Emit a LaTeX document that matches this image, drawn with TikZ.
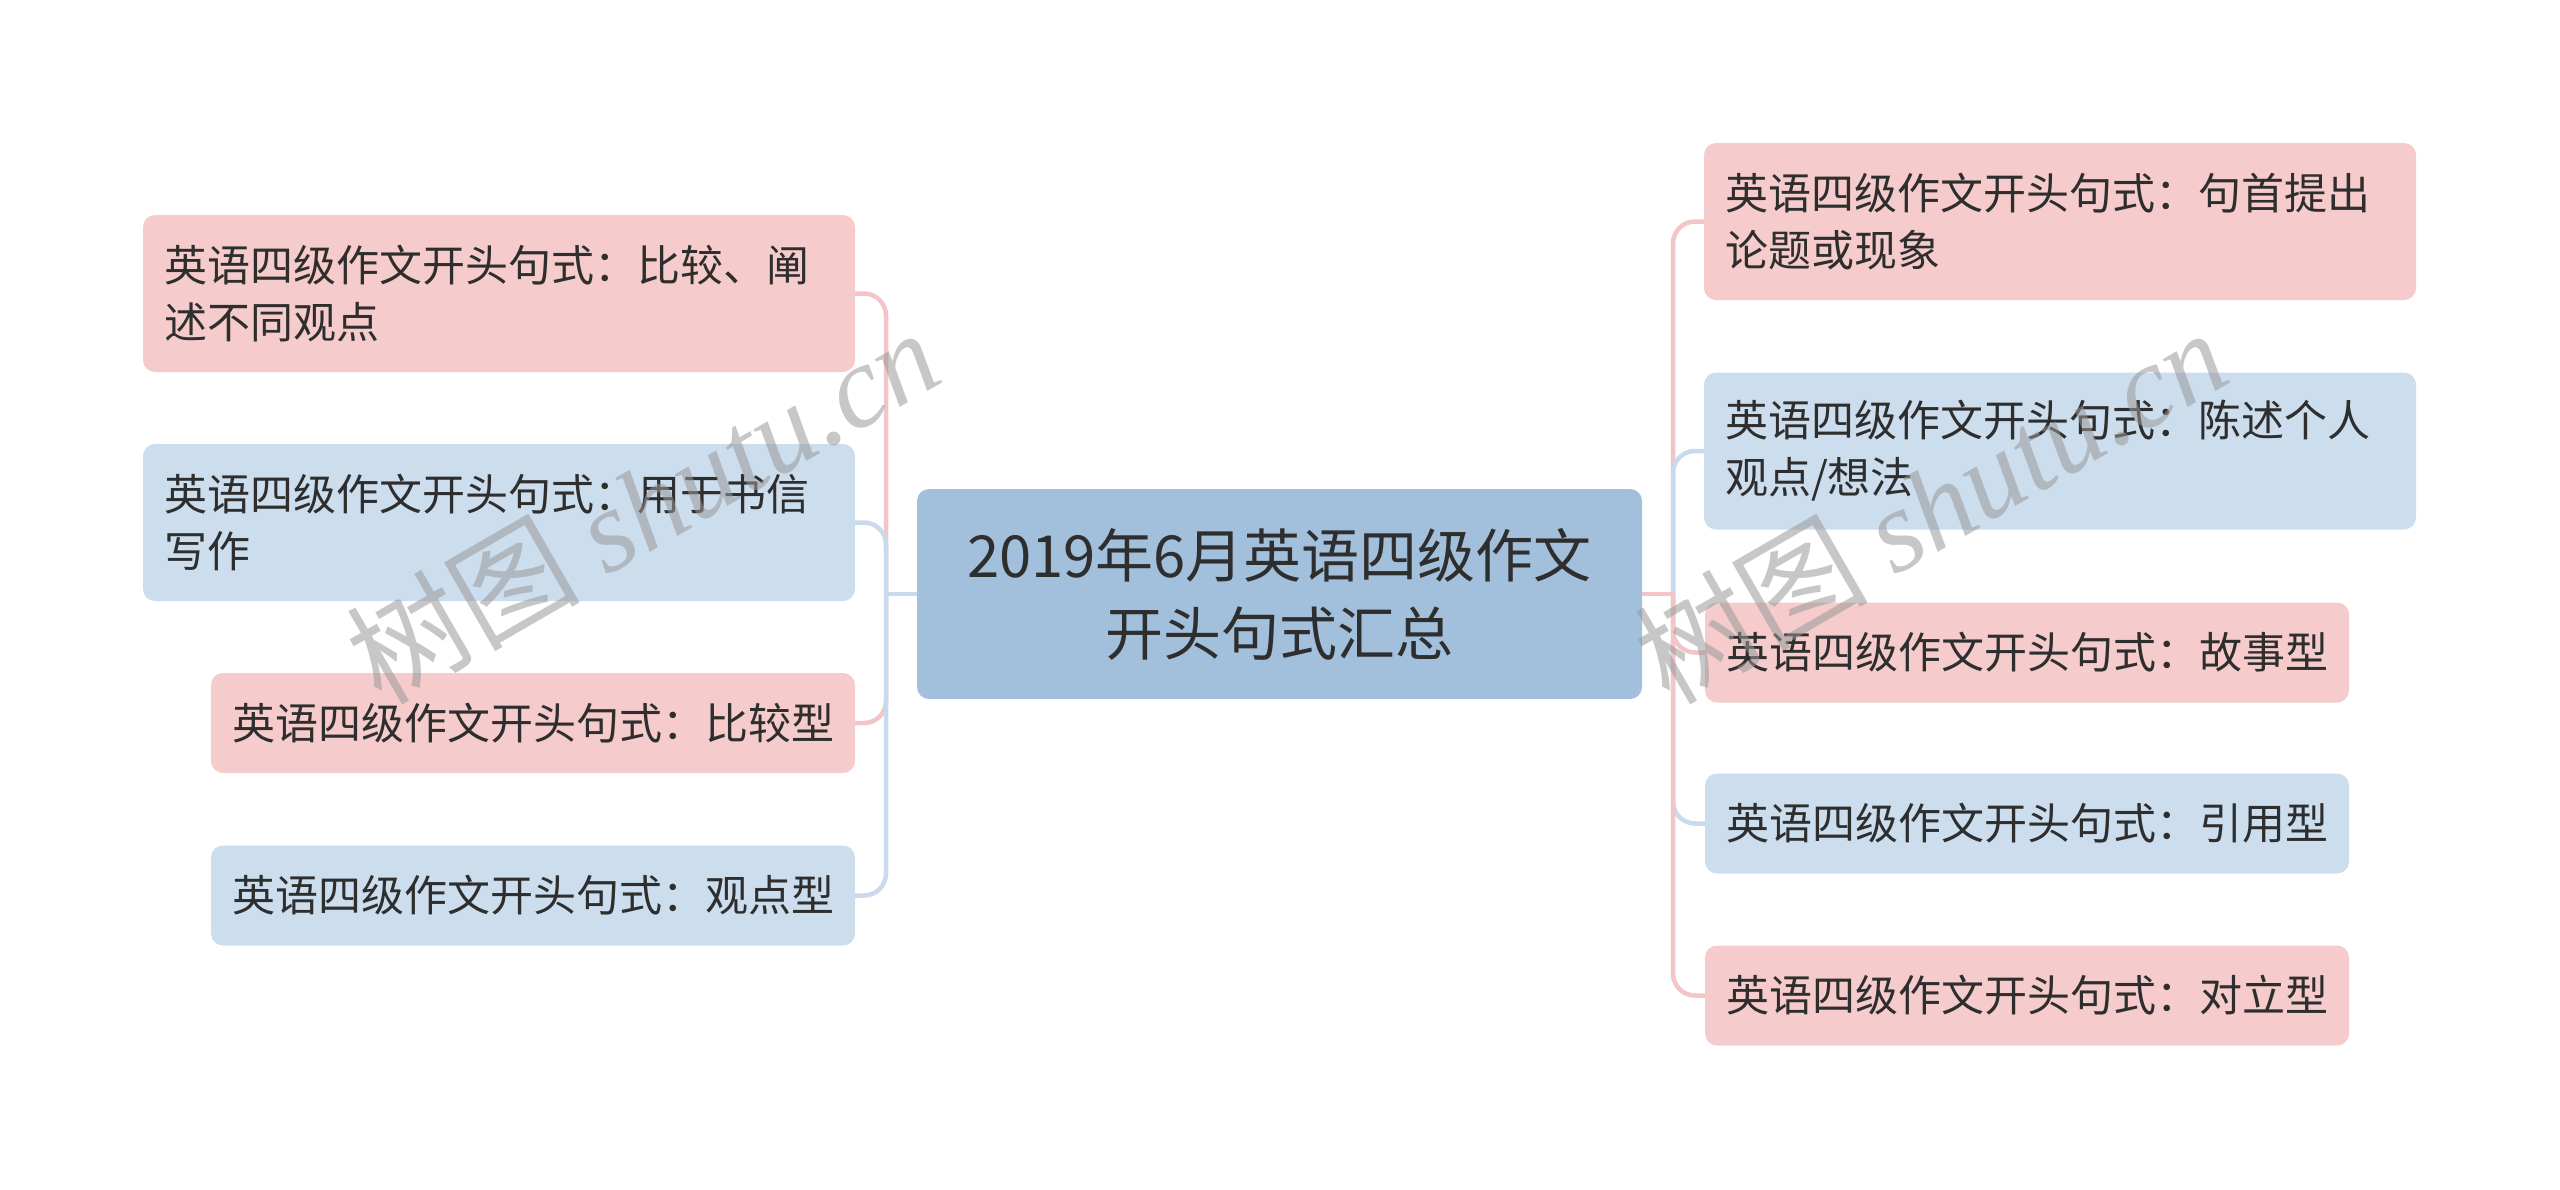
\documentclass[tikz,border=0pt]{standalone}
\usepackage{fontspec}
\setmainfont{Noto Sans CJK SC}
\newfontfamily\wmcjk{Noto Sans CJK SC}
\newfontfamily\wmserif{Liberation Serif}
\definecolor{pinkf}{HTML}{F5CBCC}
\definecolor{bluef}{HTML}{CCDDED}
\definecolor{centerf}{HTML}{A2C0DC}
\definecolor{pinkl}{HTML}{F3C5C7}
\definecolor{bluel}{HTML}{C8DAEB}
\definecolor{txt}{HTML}{2E2E2E}
\begin{document}
\begin{tikzpicture}[x=1pt,y=-1pt,
  box/.style={rounded corners=12pt, inner xsep=21pt, inner ysep=0pt, text=txt,
    font=\fontsize{43}{57}\selectfont, anchor=center},
  pinkbox/.style={box, fill=pinkf},
  bluebox/.style={box, fill=bluef},
  twoline/.style={text width=670pt, align=left, minimum height=157pt},
  oneline/.style={minimum width=644pt, minimum height=100pt, align=center},
  centerbox/.style={rounded corners=12pt, fill=centerf, text=txt, align=center,
    minimum width=725pt, minimum height=210pt, inner sep=0pt,
    font=\fontsize{58}{78}\selectfont},
  pinkline/.style={draw=pinkl, line width=4.5pt},
  blueline/.style={draw=bluel, line width=4.5pt},
  wm/.style={text=black!40, opacity=0.55, rotate=30, inner sep=0pt}
]
\useasboundingbox (0,0) rectangle (2560,1189);

% nodes
\node[centerbox] (C) at (1279.5,594) {2019年6月英语四级作文\\开头句式汇总};

\node[pinkbox, twoline] (L1) at (499,293.5) {英语四级作文开头句式：比较、阐\\述不同观点};
\node[bluebox, twoline] (L2) at (499,522.5) {英语四级作文开头句式：用于书信\\写作};
\node[pinkbox, oneline] (L3) at (533,723) {英语四级作文开头句式：比较型};
\node[bluebox, oneline] (L4) at (533,895.5) {英语四级作文开头句式：观点型};

\node[pinkbox, twoline] (R1) at (2060,221.5) {英语四级作文开头句式：句首提出\\论题或现象};
\node[bluebox, twoline] (R2) at (2060,451) {英语四级作文开头句式：陈述个人\\观点/想法};
\node[pinkbox, oneline] (R3) at (2027,652.5) {英语四级作文开头句式：故事型};
\node[bluebox, oneline] (R4) at (2027,823.5) {英语四级作文开头句式：引用型};
\node[pinkbox, oneline] (R5) at (2027,995.5) {英语四级作文开头句式：对立型};

\coordinate (lb) at (886,594);
\coordinate (rb) at (1673,594);

% left connectors
\draw[pinkline] (C.west) -- (lb);
\draw[pinkline, rounded corners=22pt] (lb) |- (L1.east);
\draw[blueline] (C.west) -- (lb);
\draw[blueline, rounded corners=22pt] (lb) |- (L2.east);
\draw[pinkline] (C.west) -- (lb);
\draw[pinkline, rounded corners=22pt] (lb) |- (L3.east);
\draw[blueline] (C.west) -- (lb);
\draw[blueline, rounded corners=22pt] (lb) |- (L4.east);

% right connectors
\draw[pinkline] (C.east) -- (rb);
\draw[pinkline, rounded corners=22pt] (rb) |- (R1.west);
\draw[blueline] (C.east) -- (rb);
\draw[blueline, rounded corners=22pt] (rb) |- (R2.west);
\draw[pinkline] (C.east) -- (rb);
\draw[pinkline, rounded corners=22pt] (rb) |- (R3.west);
\draw[blueline] (C.east) -- (rb);
\draw[blueline, rounded corners=22pt] (rb) |- (R4.west);
\draw[pinkline] (C.east) -- (rb);
\draw[pinkline, rounded corners=22pt] (rb) |- (R5.west);

% watermarks
\node[wm] (wm1) at (642,505) {\fontsize{117}{117}\selectfont\wmcjk 树图\ \wmserif\itshape shutu.cn};
\node[wm] (wm2) at (1930,505) {\fontsize{117}{117}\selectfont\wmcjk 树图\ \wmserif\itshape shutu.cn};
\end{tikzpicture}
\end{document}
